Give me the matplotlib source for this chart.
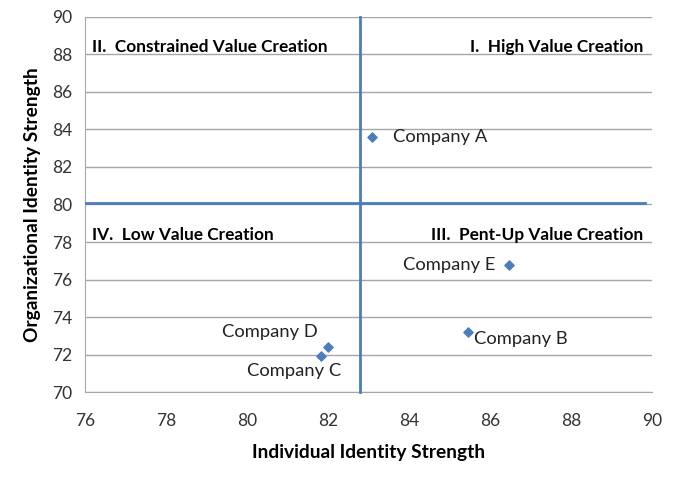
# quadrant scatter: individual vs organizational identity strength

import matplotlib.pyplot as plt

companies = ['Company A', 'Company B', 'Company C', 'Company D', 'Company E']
individual = [83.08, 85.46, 81.82, 82.01, 86.47]
organizational = [83.62, 73.18, 71.94, 72.38, 76.76]

x_split = 82.8
y_split = 80.06

quadrants = ['I.  High Value Creation', 'II.  Constrained Value Creation',
             'III.  Pent-Up Value Creation', 'IV.  Low Value Creation']

plt.rcParams['font.family'] = ['Lato', 'DejaVu Sans']

fig = plt.figure(figsize=(6.75, 4.8), dpi=100)
ax = fig.add_axes([0.126, 0.183, 0.84, 0.782])

blue = '#4a7ebb'
ax.scatter(individual, organizational, marker='D', s=22, color=blue, zorder=4)

# quadrant dividers
ax.plot([x_split, x_split], [70, 90], color=blue, lw=2, zorder=3, clip_on=False)
ax.plot([76, 89.83], [y_split, y_split], color=blue, lw=2, zorder=3)

# point labels
offsets = {
    'Company A': (15, 0, 'left'),
    'Company B': (4.5, -4.5, 'left'),
    'Company C': (-19, -11, 'center'),
    'Company D': (-8, 11, 'right'),
    'Company E': (-10, 0, 'right'),
}
for name, xv, yv in zip(companies, individual, organizational):
    dx, dy, ha = offsets[name]
    ax.annotate(name, (xv, yv), xytext=(dx, dy), textcoords='offset points',
                ha=ha, va='center', fontsize=13.2, color='#222222')

# quadrant titles
qfs = 12.4
ax.text(89.78, 88.4, quadrants[0], ha='right', va='center', fontsize=qfs, fontweight='bold')
ax.text(76.18, 88.4, quadrants[1], ha='left', va='center', fontsize=qfs, fontweight='bold')
ax.text(89.78, 78.4, quadrants[2], ha='right', va='center', fontsize=qfs, fontweight='bold')
ax.text(76.18, 78.4, quadrants[3], ha='left', va='center', fontsize=qfs, fontweight='bold')

ax.set_xlim(76, 90)
ax.set_ylim(70, 90)
ax.set_xticks(range(76, 91, 2))
ax.set_yticks(range(70, 91, 2))
ax.tick_params(length=0, labelsize=12.5, labelcolor='#333333')
ax.tick_params(axis='x', pad=15)
ax.tick_params(axis='y', pad=9)
ax.yaxis.grid(True, color='#a6a6a6', lw=1)
ax.set_axisbelow(True)
for side in ['top', 'right']:
    ax.spines[side].set_visible(False)
ax.spines['left'].set_color('#a6a6a6')
ax.spines['bottom'].set_color('#a6a6a6')

ax.set_xlabel('Individual Identity Strength', fontsize=13.8, fontweight='bold', labelpad=11)
ax.set_ylabel('Organizational Identity Strength', fontsize=13.8, fontweight='bold', labelpad=8)

plt.savefig('out.png', dpi=100)
